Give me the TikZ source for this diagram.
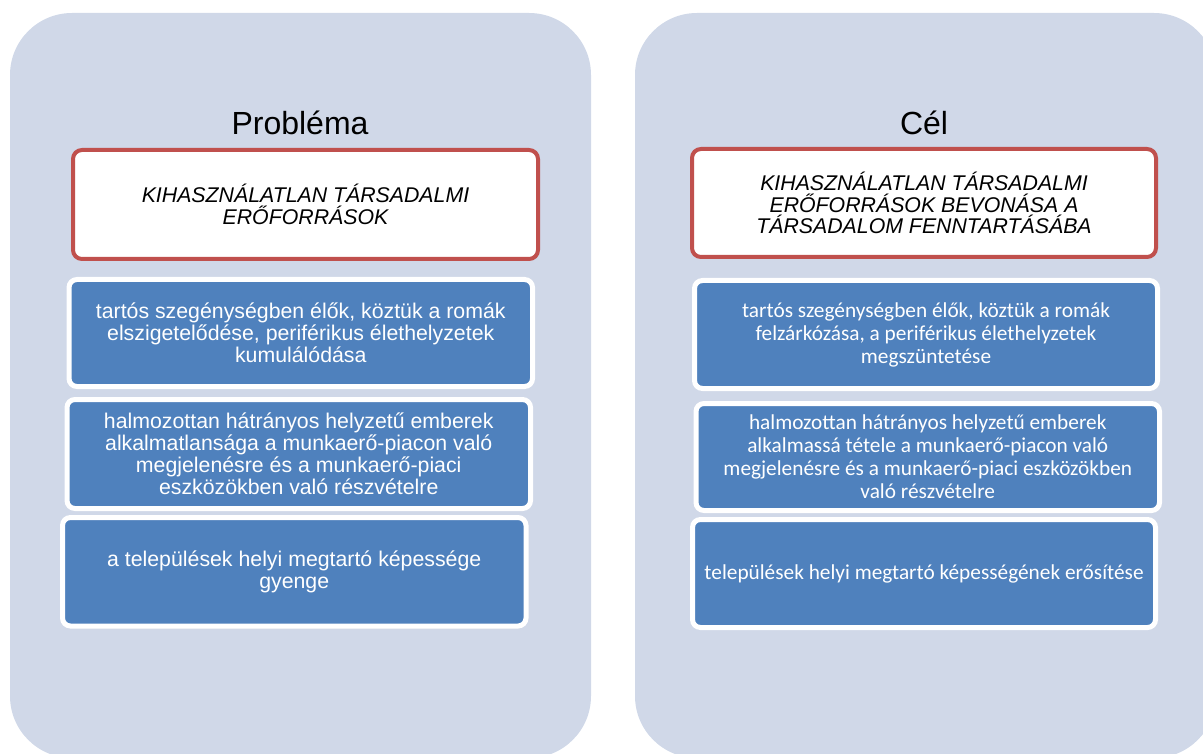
\documentclass[tikz,border=0pt]{standalone}
\usepackage{fontspec}
\setmainfont{Liberation Sans}
\newfontfamily\calibri{Carlito}
\definecolor{panelF}{RGB}{208,216,232}
\definecolor{blueF}{RGB}{79,129,189}
\definecolor{redB}{RGB}{192,80,77}
\begin{document}
\begin{tikzpicture}[x=1pt,y=-1pt,
  panel/.style={fill=panelF, rounded corners=62pt},
  titletext/.style={font=\fontsize{32}{36}\selectfont, text=black, inner sep=0pt, anchor=base},
  redbox/.style={rectangle, rounded corners=9pt, fill=white, draw=redB, line width=4pt, inner sep=0pt, align=center,
     font=\fontsize{21.3}{21.5}\selectfont\itshape, text=black},
  bluebox/.style={rectangle, rounded corners=8pt, fill=blueF, draw=white, line width=5pt, inner sep=0pt, align=center,
     text=white, font=\fontsize{21.3}{22}\selectfont},
  bluer/.style={bluebox, font=\calibri\fontsize{21.3}{23}\selectfont}]
\useasboundingbox (0,0) rectangle (1203,754);
\clip (0,0) rectangle (1203,754);
\fill[panel] (10,13) rectangle (591,758);
\fill[panel] (635,13) rectangle (1216,758);
% left column
\node[titletext] (t1) at (300,135) {Probléma};
\node[redbox, minimum width=465pt, minimum height=109pt] (r1) at (305.5,204.5)
  {KIHASZNÁLATLAN TÁRSADALMI\\ERŐFORRÁSOK};
\node[bluebox, minimum width=463.5pt, minimum height=107pt] (a1) at (300.75,333)
  {tartós szegénységben élők, köztük a romák\\elszigetelődése, periférikus élethelyzetek\\kumulálódása};
\node[bluebox, minimum width=463.5pt, minimum height=109pt] (a2) at (298.75,454)
  {halmozottan hátrányos helyzetű emberek\\alkalmatlansága a munkaerő-piacon való\\megjelenésre és a munkaerő-piaci\\eszközökben való részvételre};
\node[bluebox, minimum width=463.5pt, minimum height=108.5pt] (a3) at (294.25,571.75)
  {a települések helyi megtartó képessége\\gyenge};
% right column
\node[titletext] (t2) at (924,135) {Cél};
\node[redbox, minimum width=464pt, minimum height=108pt] (r2) at (924,203)
  {KIHASZNÁLATLAN TÁRSADALMI\\ERŐFORRÁSOK BEVONÁSA A\\TÁRSADALOM FENNTARTÁSÁBA};
\node[bluer, minimum width=463pt, minimum height=108pt] (b1) at (926,334.5)
  {tartós szegénységben élők, köztük a romák\\felzárkózása, a periférikus élethelyzetek\\megszüntetése};
\node[bluer, minimum width=463.5pt, minimum height=107pt] (b2) at (927.75,457)
  {halmozottan hátrányos helyzetű emberek\\alkalmassá tétele a munkaerő-piacon való\\megjelenésre és a munkaerő-piaci eszközökben\\való részvételre};
\node[bluer, minimum width=463pt, minimum height=108pt] (b3) at (924,573.5)
  {települések helyi megtartó képességének erősítése};
\end{tikzpicture}
\end{document}
